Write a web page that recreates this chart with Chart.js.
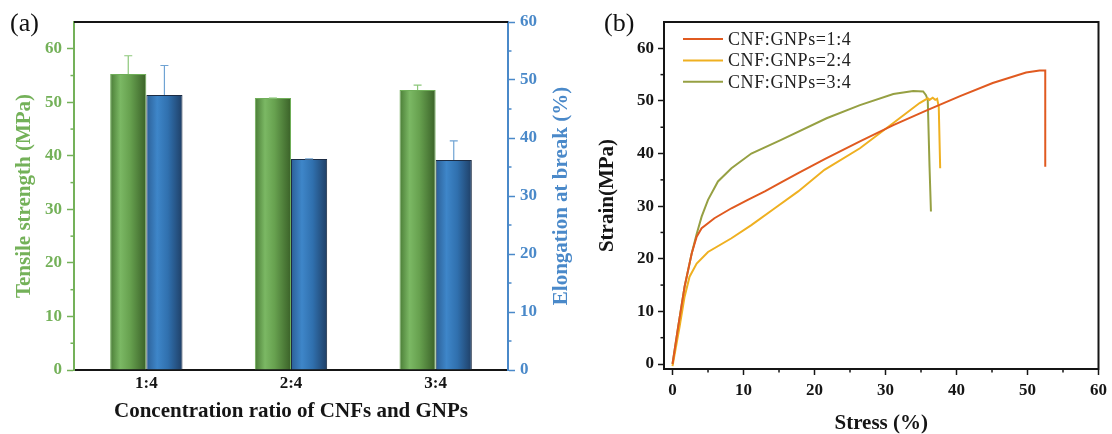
<!DOCTYPE html>
<html>
<head>
<meta charset="utf-8">
<script src="https://cdn.jsdelivr.net/npm/chart.js@4.4.0/dist/chart.umd.min.js"></script>
<style>
  html, body { margin: 0; padding: 0; background: #fff; }
  #wrap { position: relative; width: 1112px; height: 434px; overflow: hidden; }
  canvas { position: absolute; top: 0; }
  #chartA { left: 0; }
  #chartB { left: 590px; }
  .panel { position: absolute; top: 10px; font: 26px 'Liberation Serif', 'Times New Roman', serif; line-height: 26px; color: #111; }
</style>
</head>
<body>
<div id="wrap">
  <canvas id="chartA" width="590" height="434"></canvas>
  <canvas id="chartB" width="522" height="434"></canvas>
  <div class="panel" style="left:10px">(a)</div>
  <div class="panel" style="left:604px">(b)</div>
</div>
<script>
// ---- panel (a) data
const ratios = ['1:4', '2:4', '3:4'];
const tensileStrength = [55.3, 50.8, 52.3];
const tensileError = [3.4, 0, 0.9];
const elongation = [47.4, 36.4, 36.2];
const elongationError = [5.1, 0, 3.3];
const majorTicks = [0, 10, 20, 30, 40, 50, 60];
const minorTicks = [5, 15, 25, 35, 45, 55];

// ---- panel (b) data (stress %, strain MPa)
const stress14 = [0, 0.8, 1.7, 2.7, 3.4, 4.1, 5.9, 8.3, 10.6, 13.0, 15.3, 17.7, 21.5, 26.4, 31.1, 35.8, 40.5, 45.1, 49.8, 51.7, 52.5, 52.5];
const strain14 = [0, 7.1, 14.7, 21.0, 24.2, 25.8, 27.7, 29.6, 31.2, 32.8, 34.5, 36.3, 39.0, 42.3, 45.4, 48.2, 50.9, 53.4, 55.4, 55.8, 55.8, 37.5];
const stress24 = [0, 1.0, 1.7, 2.4, 3.4, 5.0, 8.3, 11.1, 14.4, 17.7, 21.4, 26.4, 31.1, 34.8, 35.95, 36.2, 36.65, 37.0, 37.27, 37.5, 37.7];
const strain24 = [-0.4, 7.1, 12.8, 16.6, 19.1, 21.3, 23.9, 26.4, 29.6, 32.8, 36.9, 41.0, 45.8, 49.6, 50.5, 50.2, 50.6, 50.2, 50.4, 48.9, 37.2];
const stress34 = [0, 0.8, 1.7, 2.7, 3.4, 4.1, 5.0, 6.4, 8.3, 11.1, 15.3, 21.7, 26.4, 31.1, 33.9, 35.3, 35.7, 35.95, 36.2, 36.4];
const strain34 = [0, 7.1, 14.7, 21.0, 24.7, 28.0, 31.2, 34.7, 37.2, 40.0, 42.6, 46.7, 49.2, 51.3, 51.9, 51.8, 51.1, 50.2, 37.5, 29.0];
const seriesLabels = ['CNF:GNPs=1:4', 'CNF:GNPs=2:4', 'CNF:GNPs=3:4'];

const GREEN = '#74b159';
const BLUE = '#4a89c9';
const INK = '#151515';

Chart.defaults.font.family = "'Liberation Serif', 'Times New Roman', serif";
Chart.defaults.animation = false;

// cylinder-like shading across each bar
function barShade(stops, flat, dsIndex) {
    return (c) => {
        const xs = c.chart.scales.x;
        if (!xs || c.dataIndex === undefined || !xs.width) return flat;
        const cat = xs.width / ratios.length;
        const w = cat * 0.25;
        const left = xs.getPixelForValue(c.dataIndex) - w + dsIndex * w;
        const g = c.chart.ctx.createLinearGradient(left, 0, left + w, 0);
        stops.forEach(s => g.addColorStop(s[0], s[1]));
        return g;
    };
}

function minorTick(ctx, x1, y1, x2, y2, color) {
    ctx.strokeStyle = color;
    ctx.lineWidth = 1.5;
    ctx.beginPath();
    ctx.moveTo(x1, y1);
    ctx.lineTo(x2, y2);
    ctx.stroke();
}

// error bars, top frame line, minor ticks, right title
const panelAExtras = {
    id: 'panelAExtras',
    afterDatasetsDraw(chart) {
        const ctx = chart.ctx;
        const errs = [tensileError, elongationError];
        const cols = ['#8cc77a', '#6fa3d3'];
        ctx.save();
        [0, 1].forEach(i => {
            const meta = chart.getDatasetMeta(i);
            const scale = chart.scales[meta.yAxisID];
            const vals = chart.data.datasets[i].data;
            meta.data.forEach((bar, j) => {
                const yTop = scale.getPixelForValue(vals[j] + errs[i][j]);
                ctx.strokeStyle = cols[i];
                ctx.lineWidth = 1.2;
                ctx.beginPath();
                ctx.moveTo(bar.x, bar.y);
                ctx.lineTo(bar.x, yTop);
                ctx.moveTo(bar.x - 4, yTop);
                ctx.lineTo(bar.x + 4, yTop);
                ctx.stroke();
            });
        });
        ctx.restore();
    },
    afterDraw(chart) {
        const ctx = chart.ctx;
        const a = chart.chartArea;
        ctx.save();
        ctx.strokeStyle = INK;
        ctx.lineWidth = 2;
        ctx.beginPath();
        ctx.moveTo(a.left, a.top);
        ctx.lineTo(a.right, a.top);
        ctx.stroke();
        minorTicks.forEach(v => {
            const yl = chart.scales.y.getPixelForValue(v);
            minorTick(ctx, a.left - 3.5, yl, a.left, yl, GREEN);
            const yr = chart.scales.y1.getPixelForValue(v);
            minorTick(ctx, a.right, yr, a.right + 3.5, yr, BLUE);
        });
        ctx.translate(562, (a.top + a.bottom) / 2);
        ctx.rotate(-Math.PI / 2);
        ctx.font = "bold 21px 'Liberation Serif', 'Times New Roman', serif";
        ctx.fillStyle = BLUE;
        ctx.textAlign = 'center';
        ctx.textBaseline = 'middle';
        ctx.fillText('Elongation at break (%)', 0, 0);
        ctx.restore();
    }
};

new Chart(document.getElementById('chartA'), {
    type: 'bar',
    data: {
        labels: ratios,
        datasets: [{
            label: 'Tensile strength',
            data: tensileStrength,
            yAxisID: 'y',
            backgroundColor: barShade([[0, '#4a7c36'], [0.28, '#7bb864'], [0.55, '#67a14f'], [1, '#3a6128']], '#6aa552', 0),
            borderColor: '#6fae58',
            borderWidth: 1
        }, {
            label: 'Elongation at break',
            data: elongation,
            yAxisID: 'y1',
            backgroundColor: barShade([[0, '#2c5f96'], [0.3, '#3e86c9'], [0.6, '#3070ae'], [1, '#1f3f66']], '#3a7dbf', 1),
            borderColor: '#1c2c44',
            borderWidth: 1
        }]
    },
    options: {
        responsive: false,
        devicePixelRatio: 1,
        layout: { padding: { top: 22, left: 0, right: 0, bottom: 0 } },
        datasets: { bar: { categoryPercentage: 0.5, barPercentage: 1.0 } },
        plugins: { legend: { display: false }, tooltip: { enabled: false } },
        scales: {
            x: {
                grid: { display: false, drawTicks: false },
                border: { color: INK, width: 2 },
                ticks: { color: INK, font: { size: 17, weight: 'bold' }, padding: 3 },
                title: { display: true, text: 'Concentration ratio of CNFs and GNPs', color: INK, font: { size: 21, weight: 'bold' }, padding: { top: 0, bottom: 10 } },
                afterFit: s => { s.height = 64; }
            },
            y: {
                position: 'left', min: 0, max: 65,
                afterBuildTicks: s => { s.ticks = majorTicks.map(v => ({ value: v })); },
                grid: { drawOnChartArea: false, tickLength: 7, tickColor: GREEN, tickWidth: 1.5 },
                border: { color: GREEN, width: 2 },
                ticks: { color: GREEN, font: { size: 17, weight: 'bold' }, padding: 5 },
                title: { display: true, text: 'Tensile strength (MPa)', color: GREEN, font: { size: 21, weight: 'bold' }, padding: { top: 12, bottom: 0 } },
                afterFit: s => { s.width = 74; }
            },
            y1: {
                position: 'right', min: 0, max: 60,
                afterBuildTicks: s => { s.ticks = majorTicks.map(v => ({ value: v })); },
                grid: { drawOnChartArea: false, tickLength: 7, tickColor: BLUE, tickWidth: 1.5 },
                border: { color: BLUE, width: 2 },
                ticks: { color: BLUE, font: { size: 17, weight: 'bold' }, padding: 5 },
                afterFit: s => { s.width = 82; }
            }
        }
    },
    plugins: [panelAExtras]
});

// ---- panel (b)
const lineColors = ['#e05a20', '#efb021', '#96a043'];

const panelBExtras = {
    id: 'panelBExtras',
    afterDraw(chart) {
        const ctx = chart.ctx;
        const a = chart.chartArea;
        ctx.save();
        ctx.strokeStyle = INK;
        ctx.lineWidth = 2;
        ctx.strokeRect(a.left, a.top, a.right - a.left, a.bottom - a.top);
        minorTicks.forEach(v => {
            const x = chart.scales.x.getPixelForValue(v);
            minorTick(ctx, x, a.bottom, x, a.bottom + 3.5, INK);
            const y = chart.scales.y.getPixelForValue(v);
            minorTick(ctx, a.left - 3.5, y, a.left, y, INK);
        });
        // legend inside the plot
        ctx.font = "18px 'Liberation Serif', 'Times New Roman', serif";
        ctx.letterSpacing = '0.6px';
        ctx.textAlign = 'left';
        ctx.textBaseline = 'middle';
        chart.data.datasets.forEach((ds, i) => {
            const y = 39 + i * 21.4;
            ctx.strokeStyle = ds.borderColor;
            ctx.lineWidth = 2;
            ctx.beginPath();
            ctx.moveTo(93, y);
            ctx.lineTo(133, y);
            ctx.stroke();
            ctx.fillStyle = '#222';
            ctx.fillText(ds.label, 138, y + 1);
        });
        ctx.restore();
    }
};

function toPoints(xs, ys) {
    return xs.map((x, i) => ({ x: x, y: ys[i] }));
}

new Chart(document.getElementById('chartB'), {
    type: 'line',
    data: {
        datasets: [
            { label: seriesLabels[0], data: toPoints(stress14, strain14), borderColor: lineColors[0] },
            { label: seriesLabels[1], data: toPoints(stress24, strain24), borderColor: lineColors[1] },
            { label: seriesLabels[2], data: toPoints(stress34, strain34), borderColor: lineColors[2] }
        ]
    },
    options: {
        responsive: false,
        devicePixelRatio: 1,
        layout: { padding: { top: 22, left: 0, right: 13, bottom: 0 } },
        elements: { point: { radius: 0 }, line: { borderWidth: 2, tension: 0, fill: false } },
        plugins: { legend: { display: false }, tooltip: { enabled: false } },
        scales: {
            x: {
                type: 'linear', min: -1.2, max: 60,
                afterBuildTicks: s => { s.ticks = majorTicks.map(v => ({ value: v })); },
                grid: { drawOnChartArea: false, tickLength: 6, tickColor: INK, tickWidth: 1.5 },
                border: { color: INK, width: 2 },
                ticks: { color: INK, font: { size: 17, weight: 'bold' }, padding: 5 },
                title: { display: true, text: 'Stress (%)', color: INK, font: { size: 21, weight: 'bold' }, padding: { top: 0, bottom: -2 } },
                afterFit: s => { s.height = 65; }
            },
            y: {
                type: 'linear', min: -0.95, max: 65,
                afterBuildTicks: s => { s.ticks = majorTicks.map(v => ({ value: v })); },
                grid: { drawOnChartArea: false, tickLength: 6, tickColor: INK, tickWidth: 1.5 },
                border: { color: INK, width: 2 },
                ticks: { color: INK, font: { size: 17, weight: 'bold' }, padding: 4 },
                title: { display: true, text: 'Strain(MPa)', color: INK, font: { size: 21, weight: 'bold' }, padding: { top: 5, bottom: 0 } },
                afterFit: s => { s.width = 74; }
            }
        }
    },
    plugins: [panelBExtras]
});
</script>
</body>
</html>
